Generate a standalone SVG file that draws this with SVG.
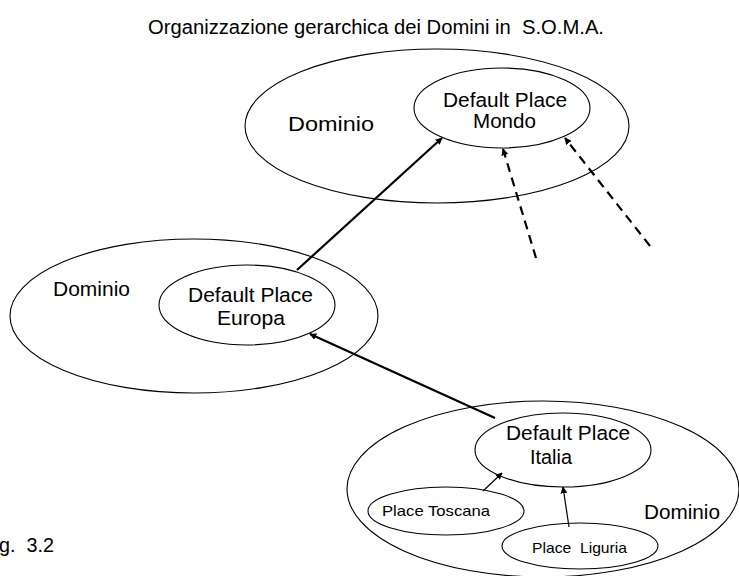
<svg xmlns="http://www.w3.org/2000/svg" width="739" height="576" viewBox="0 0 739 576">
  <style>
    .dom { fill: none; stroke: #000; stroke-width: 1.1; }
    .plc { fill: none; stroke: #000; stroke-width: 1.1; }
    text { font-family: "Liberation Sans", Arial, sans-serif; fill: #000; white-space: pre; }
    .big { font-size: 20.5px; }
    .mid { font-size: 19.5px; }
    .small { font-size: 15px; }
    .solid { stroke: #000; stroke-width: 2.2; fill: none; }
    .thin { stroke: #000; stroke-width: 1.2; fill: none; }
    .dash { stroke: #000; stroke-width: 2.2; fill: none; stroke-dasharray: 9 6; }
  </style>
  <defs>
    <marker id="head" viewBox="0 0 10 10" refX="9" refY="5" markerWidth="7" markerHeight="7" markerUnits="userSpaceOnUse" orient="auto">
      <path d="M0,0 L10,5 L0,10 z" fill="#000"/>
    </marker>
  </defs>

  <rect width="739" height="576" fill="#fff"/>

  <text id="title" x="148" y="34" class="mid" xml:space="preserve" textLength="456" lengthAdjust="spacingAndGlyphs">Organizzazione gerarchica dei Domini in  S.O.M.A.</text>

  <!-- Mondo domain -->
  <g id="dominio-mondo">
    <ellipse class="dom" cx="437" cy="126" rx="192" ry="77"/>
    <text x="288" y="131" class="big" textLength="86" lengthAdjust="spacingAndGlyphs">Dominio</text>
  </g>
  <g id="place-mondo">
    <ellipse class="plc" cx="502" cy="108" rx="88" ry="40"/>
    <text x="443" y="107" class="big" textLength="124" lengthAdjust="spacingAndGlyphs">Default Place</text>
    <text x="473" y="128" class="big" textLength="63" lengthAdjust="spacingAndGlyphs">Mondo</text>
  </g>

  <!-- Europa domain -->
  <g id="dominio-europa">
    <ellipse class="dom" cx="194" cy="316" rx="184" ry="77"/>
    <text x="53" y="296" class="big" textLength="77" lengthAdjust="spacingAndGlyphs">Dominio</text>
  </g>
  <g id="place-europa">
    <ellipse class="plc" cx="247" cy="305" rx="88" ry="40"/>
    <text x="188" y="302" class="big" textLength="125" lengthAdjust="spacingAndGlyphs">Default Place</text>
    <text x="217" y="325" class="big" textLength="68" lengthAdjust="spacingAndGlyphs">Europa</text>
  </g>

  <!-- Italia domain -->
  <g id="dominio-italia">
    <ellipse class="dom" cx="543" cy="489" rx="196" ry="88"/>
    <text x="644" y="519" class="big" textLength="76" lengthAdjust="spacingAndGlyphs">Dominio</text>
  </g>
  <g id="place-italia">
    <ellipse class="plc" cx="563" cy="450" rx="88" ry="37"/>
    <text x="506" y="440" class="big" textLength="124" lengthAdjust="spacingAndGlyphs">Default Place</text>
    <text x="530" y="464" class="big" textLength="42" lengthAdjust="spacingAndGlyphs">Italia</text>
  </g>
  <g id="place-toscana">
    <ellipse class="plc" cx="446" cy="511" rx="78" ry="24"/>
    <text x="382" y="516" class="small" textLength="108" lengthAdjust="spacingAndGlyphs">Place Toscana</text>
  </g>
  <g id="place-liguria">
    <ellipse class="plc" cx="580" cy="546" rx="78" ry="23"/>
    <text x="532" y="553" class="small" xml:space="preserve" textLength="95" lengthAdjust="spacingAndGlyphs">Place  Liguria</text>
  </g>

  <!-- Parent links between default places -->
  <g id="connectors">
    <line class="solid" x1="297" y1="270" x2="442" y2="138" marker-end="url(#head)"/>
    <line class="solid" x1="495" y1="418" x2="310" y2="334" marker-end="url(#head)"/>
    <line class="dash" x1="536" y1="258" x2="503" y2="149" marker-end="url(#head)"/>
    <line class="dash" x1="650" y1="246" x2="565" y2="138" marker-end="url(#head)"/>
    <line class="thin" x1="483" y1="491" x2="502" y2="473" marker-end="url(#head)"/>
    <line class="thin" x1="569" y1="527" x2="563" y2="487" marker-end="url(#head)"/>
  </g>

  <text id="caption" x="-1" y="552" class="mid" xml:space="preserve" textLength="55" lengthAdjust="spacingAndGlyphs">g.  3.2</text>
</svg>
